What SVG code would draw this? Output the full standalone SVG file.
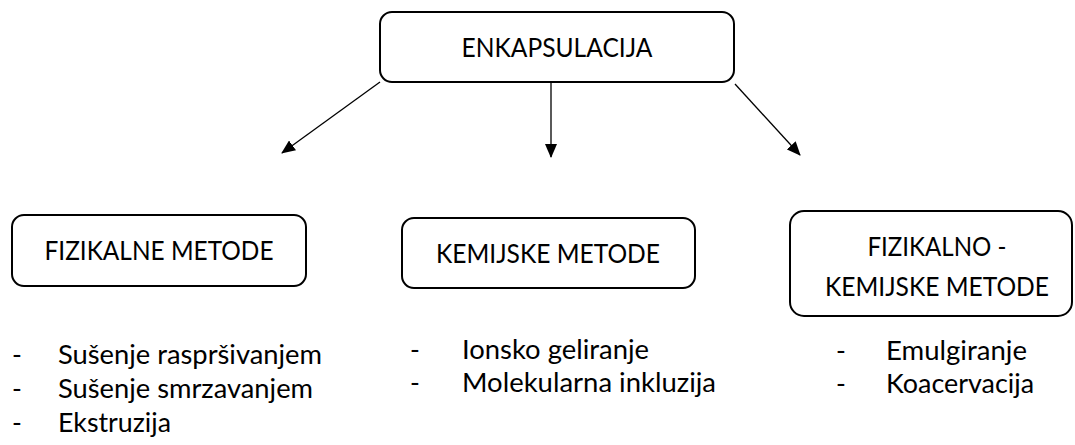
<svg xmlns="http://www.w3.org/2000/svg" width="1075" height="445" viewBox="0 0 1075 445">
<defs>
<style>
.box{fill:#fff;stroke:#000;stroke-width:2}
.t{font-family:Lato,"Liberation Sans",sans-serif;font-size:26.5px;fill:#000}
.c{text-anchor:middle}
.con{stroke:#000;stroke-width:1.3;fill:none}
</style>
<marker id="ah" markerWidth="14" markerHeight="12" refX="13" refY="6" orient="auto" markerUnits="userSpaceOnUse">
<path d="M0,0 L14,6 L0,12 Z" fill="#000"/>
</marker>
</defs>
<rect width="1075" height="445" fill="#fff"/>
<g id="connectors">
<line class="con" x1="380" y1="82" x2="282" y2="153" marker-end="url(#ah)"/>
<line class="con" x1="551" y1="83" x2="551" y2="157" marker-end="url(#ah)"/>
<line class="con" x1="735" y1="84" x2="800" y2="155" marker-end="url(#ah)"/>
</g>
<g id="enkapsulacija">
<rect class="box" x="380" y="12" width="354" height="70" rx="12"/>
<text class="t c" x="557" y="57" textLength="191" lengthAdjust="spacingAndGlyphs">ENKAPSULACIJA</text>
</g>
<g id="fizikalne">
<rect class="box" x="12" y="215" width="294" height="71" rx="12"/>
<text class="t c" x="159" y="260" textLength="229" lengthAdjust="spacingAndGlyphs">FIZIKALNE METODE</text>
</g>
<g id="kemijske">
<rect class="box" x="402" y="218" width="293" height="70" rx="12"/>
<text class="t c" x="548" y="263" textLength="224" lengthAdjust="spacingAndGlyphs">KEMIJSKE METODE</text>
</g>
<g id="fizikalno-kemijske">
<rect class="box" x="790" y="211" width="282" height="105" rx="14"/>
<text class="t c" x="937" y="256" textLength="139" lengthAdjust="spacingAndGlyphs">FIZIKALNO -</text>
<text class="t c" x="937" y="296" textLength="224" lengthAdjust="spacingAndGlyphs">KEMIJSKE METODE</text>
</g>
<g id="fizikalne-list">
<text class="t" x="12" y="364">-</text><text class="t" x="58" y="364" textLength="264" lengthAdjust="spacingAndGlyphs">Sušenje raspršivanjem</text>
<text class="t" x="12" y="398">-</text><text class="t" x="58" y="398" textLength="255" lengthAdjust="spacingAndGlyphs">Sušenje smrzavanjem</text>
<text class="t" x="12" y="432">-</text><text class="t" x="58" y="432" textLength="113" lengthAdjust="spacingAndGlyphs">Ekstruzija</text>
</g>
<g id="kemijske-list">
<text class="t" x="410" y="359">-</text><text class="t" x="462" y="359" textLength="187" lengthAdjust="spacingAndGlyphs">Ionsko geliranje</text>
<text class="t" x="410" y="392">-</text><text class="t" x="462" y="392" textLength="254" lengthAdjust="spacingAndGlyphs">Molekularna inkluzija</text>
</g>
<g id="fizikalno-kemijske-list">
<text class="t" x="836" y="360">-</text><text class="t" x="886" y="360" textLength="141" lengthAdjust="spacingAndGlyphs">Emulgiranje</text>
<text class="t" x="836" y="393">-</text><text class="t" x="886" y="393" textLength="148" lengthAdjust="spacingAndGlyphs">Koacervacija</text>
</g>
</svg>
